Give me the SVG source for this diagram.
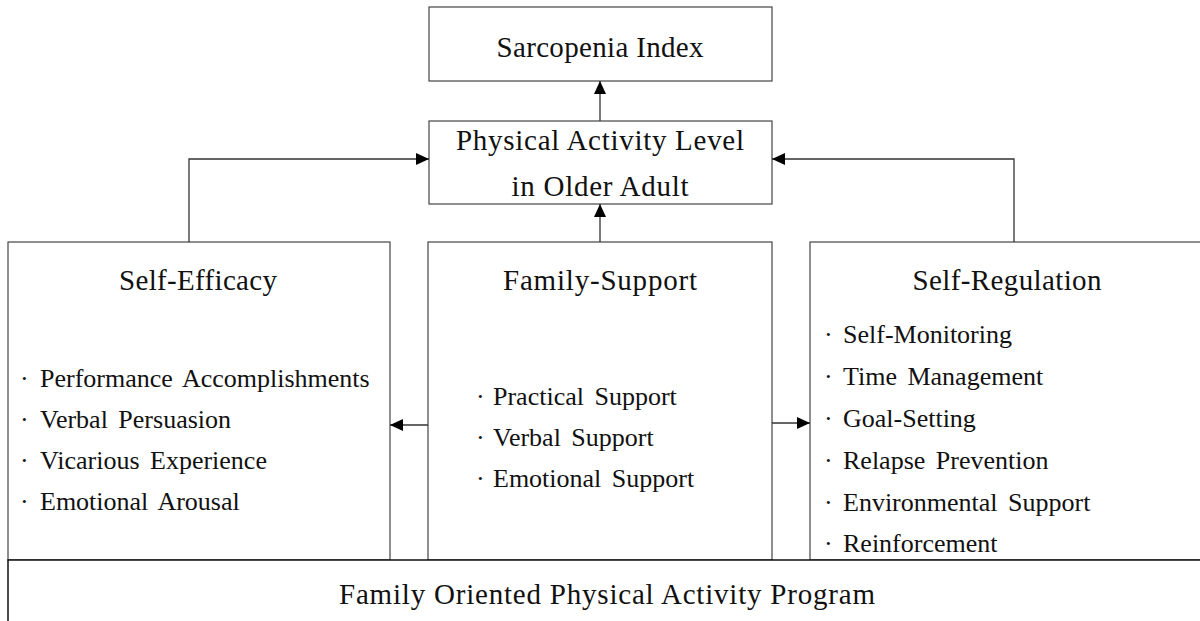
<svg xmlns="http://www.w3.org/2000/svg" width="1200" height="621" viewBox="0 0 1200 621">
<defs>
<style>
.box{fill:#fff;stroke:#444;stroke-width:1.2}
.hd{font-family:"Liberation Serif","Times New Roman",serif;font-size:29px;fill:#111;text-anchor:middle}
.it{font-family:"Liberation Serif","Times New Roman",serif;font-size:26px;fill:#111;word-spacing:4px}
.bl{word-spacing:0}
.cn{fill:none;stroke:#333;stroke-width:1.3}
</style>
<marker id="ah" markerUnits="userSpaceOnUse" markerWidth="14" markerHeight="12" refX="13" refY="6" orient="auto">
<path d="M0,0 L13,6 L0,12 z" fill="#000"/>
</marker>
</defs>
<rect width="1200" height="621" fill="#fff"/>
<g id="sarcopenia">
<rect class="box" x="429" y="7" width="343" height="74"/>
<text class="hd" x="600" y="57" textLength="207" lengthAdjust="spacing">Sarcopenia Index</text>
</g>
<g id="pal">
<rect class="box" x="429" y="121" width="343" height="83"/>
<text class="hd" x="600" y="150" textLength="288" lengthAdjust="spacing">Physical Activity Level</text>
<text class="hd" x="600" y="196" textLength="177" lengthAdjust="spacing">in Older Adult</text>
</g>
<g id="self-efficacy">
<rect class="box" x="8" y="242" width="382" height="318"/>
<text class="hd" x="198" y="290" textLength="158" lengthAdjust="spacing">Self-Efficacy</text>
<text class="it" y="387"><tspan class="bl" x="20">· </tspan><tspan x="40">Performance Accomplishments</tspan></text>
<text class="it" y="428"><tspan class="bl" x="20">· </tspan><tspan x="40">Verbal Persuasion</tspan></text>
<text class="it" y="469"><tspan class="bl" x="20">· </tspan><tspan x="40">Vicarious Experience</tspan></text>
<text class="it" y="510"><tspan class="bl" x="20">· </tspan><tspan x="40">Emotional Arousal</tspan></text>
</g>
<g id="family-support">
<rect class="box" x="428" y="242" width="344" height="318"/>
<text class="hd" x="600" y="290" textLength="194" lengthAdjust="spacing">Family-Support</text>
<text class="it" y="405"><tspan class="bl" x="476">· </tspan><tspan x="493">Practical Support</tspan></text>
<text class="it" y="446"><tspan class="bl" x="476">· </tspan><tspan x="493">Verbal Support</tspan></text>
<text class="it" y="487"><tspan class="bl" x="476">· </tspan><tspan x="493">Emotional Support</tspan></text>
</g>
<g id="self-regulation">
<rect class="box" x="810" y="242" width="400" height="318"/>
<text class="hd" x="1007" y="290" textLength="189" lengthAdjust="spacing">Self-Regulation</text>
<text class="it" y="343"><tspan class="bl" x="824">· </tspan><tspan x="843">Self-Monitoring</tspan></text>
<text class="it" y="385"><tspan class="bl" x="824">· </tspan><tspan x="843">Time Management</tspan></text>
<text class="it" y="427"><tspan class="bl" x="824">· </tspan><tspan x="843">Goal-Setting</tspan></text>
<text class="it" y="469"><tspan class="bl" x="824">· </tspan><tspan x="843">Relapse Prevention</tspan></text>
<text class="it" y="511"><tspan class="bl" x="824">· </tspan><tspan x="843">Environmental Support</tspan></text>
<text class="it" y="552"><tspan class="bl" x="824">· </tspan><tspan x="843">Reinforcement</tspan></text>
</g>
<g id="program">
<rect x="8" y="560" width="1210" height="70" fill="#fff" stroke="#111" stroke-width="1.5"/>
<text class="hd" x="607" y="604" textLength="536" lengthAdjust="spacing">Family Oriented Physical Activity Program</text>
</g>
<g id="connectors">
<line class="cn" x1="600" y1="121" x2="600" y2="81" marker-end="url(#ah)"/>
<line class="cn" x1="600" y1="242" x2="600" y2="204" marker-end="url(#ah)"/>
<polyline class="cn" points="189,242 189,159 429,159" marker-end="url(#ah)"/>
<polyline class="cn" points="1014,242 1014,159 772,159" marker-end="url(#ah)"/>
<line class="cn" x1="428" y1="425" x2="390" y2="425" marker-end="url(#ah)"/>
<line class="cn" x1="772" y1="423" x2="810" y2="423" marker-end="url(#ah)"/>
</g>
</svg>
